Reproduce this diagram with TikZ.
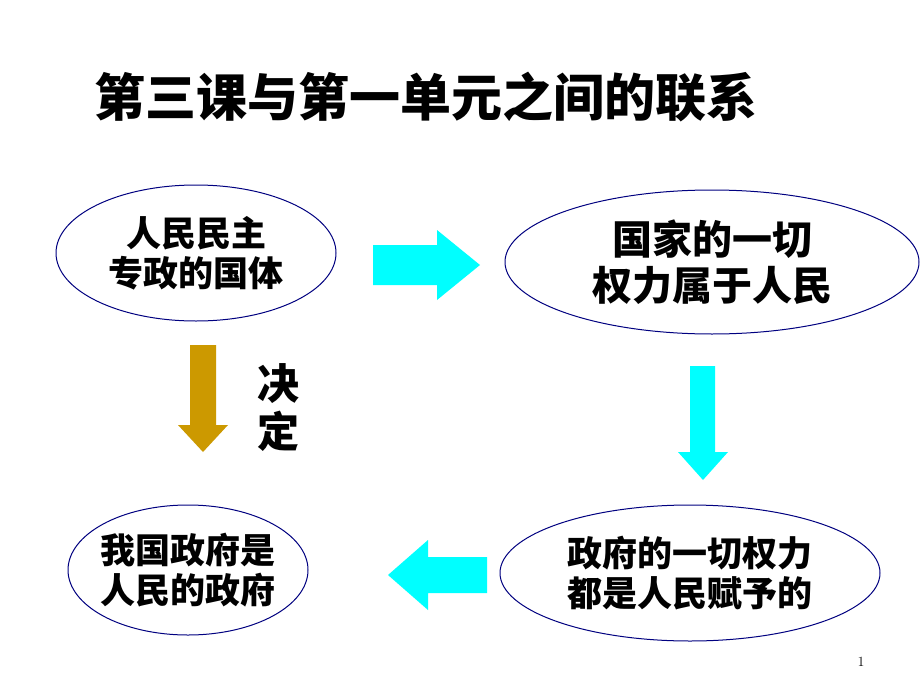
\documentclass[tikz,border=0pt]{standalone}
\usepackage{fontspec}
\newfontfamily\cjk{Noto Sans CJK SC}
\usetikzlibrary{shapes.geometric}
\definecolor{navy}{RGB}{0,0,128}
\definecolor{cyanA}{RGB}{0,255,255}
\definecolor{goldA}{RGB}{204,153,0}
\begin{document}
\begin{tikzpicture}[x=1pt,y=-1pt,
  ell/.style={ellipse,draw=navy,line width=1pt,align=center,font=\cjk\bfseries,inner sep=0pt},
  t32/.style={font=\cjk\bfseries\fontsize{35}{40}\selectfont}]
\useasboundingbox[fill=white] (0,0) rectangle (920,690);
\node[font=\cjk\bfseries\fontsize{51}{56}\selectfont] (title) at (426,97) {第三课与第一单元之间的联系};
\node[ell,minimum width=280,minimum height=136] (e1) at (196,253) {};
\node[t32,align=center] at (e1) {人民民主\\专政的国体};
\node[ell,minimum width=414,minimum height=144] (e2) at (712,262) {};
\node[font=\cjk\bfseries\fontsize{40}{46}\selectfont,align=center] at (e2) {国家的一切\\权力属于人民};
\node[ell,minimum width=240,minimum height=130] (e3) at (188,570) {};
\node[t32,align=center] at (e3) {我国政府是\\人民的政府};
\node[ell,minimum width=380,minimum height=136] (e4) at (690,573) {};
\node[t32,align=center] at (e4) {政府的一切权力\\都是人民赋予的};
\fill[cyanA] (373,245) -- (437,245) -- (437,230) -- (480,265) -- (437,300) -- (437,285) -- (373,285) -- cycle;
\fill[goldA] (190,345) -- (216,345) -- (216,425) -- (228,425) -- (203,452) -- (178,425) -- (190,425) -- cycle;
\fill[cyanA] (690,366) -- (715,366) -- (715,452) -- (728,452) -- (703,480) -- (678,452) -- (690,452) -- cycle;
\fill[cyanA] (487,557) -- (428,557) -- (428,540) -- (388,575) -- (428,610) -- (428,593) -- (487,593) -- cycle;
\node[font=\cjk\bfseries\fontsize{42}{48}\selectfont,align=center] (jd) at (278,408) {决\\定};
\node[font=\fontsize{14}{16}\selectfont] (pg) at (861,662) {1};
\end{tikzpicture}
\end{document}
